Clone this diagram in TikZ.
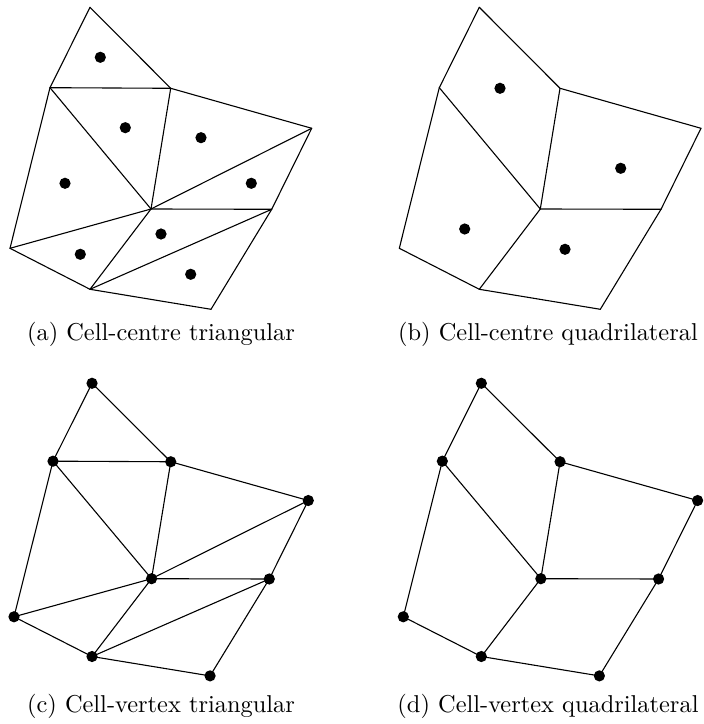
\documentclass[tikz,border=0pt]{standalone}
\usepackage{tikz}
\usetikzlibrary{positioning}
\tikzset{
  fv diagram/.style={x=0.41pt, y=-0.41pt, line cap=round, line join=round},
  fv edge/.style={draw=black, line width=0.45pt},
  fv dot/.style={circle, fill=black, inner sep=0pt, minimum size=4.6pt},
  fv caption/.style={anchor=base, inner sep=0pt}
}
% mesh vertices of one panel, #1 is the name prefix
\newcommand{\fvpoints}[1]{%
  \coordinate (#1A) at (90,7.3);
  \coordinate (#1B) at (50,87.7);
  \coordinate (#1C) at (170.7,88.3);
  \coordinate (#1D) at (311.7,128.3);
  \coordinate (#1E) at (151,209);
  \coordinate (#1F) at (271.7,209.3);
  \coordinate (#1G) at (10,248.3);
  \coordinate (#1H) at (90,289.3);
  \coordinate (#1I) at (211,309.3);
}
\newcommand{\fvtriedges}[1]{%
  \foreach \u/\v in {A/B,A/C,B/C,B/E,B/G,C/E,C/D,D/E,D/F,E/F,E/G,E/H,F/H,F/I,G/H,H/I}
    \draw[fv edge] (#1\u) -- (#1\v);
}
\newcommand{\fvquadedges}[1]{%
  \foreach \u/\v in {A/B,A/C,B/E,C/E,C/D,D/F,E/F,B/G,G/H,E/H,H/I,F/I}
    \draw[fv edge] (#1\u) -- (#1\v);
}

\begin{document}
\begin{tikzpicture}[fv diagram]
\useasboundingbox (0,0) rectangle (704,724);

% (a) cell-centre, triangles
\begin{scope}
  \fvpoints{a}
  \fvtriedges{a}
  \foreach \x/\y [count=\i] in {100.3/57.3,125.3/127.7,201/137.7,65/183.3,
      251.3/183.3,161/234,80.3/254.3,190.7/274.3}
    \node[fv dot] (ac\i) at (\x,\y) {};
\end{scope}

% (b) cell-centre, quadrilaterals
\begin{scope}[shift={(389.3,0)}]
  \fvpoints{b}
  \fvquadedges{b}
  \foreach \x/\y [count=\i] in {110.7/88.3,231.4/168.3,75.4/229,175.7/249.3}
    \node[fv dot] (bc\i) at (\x,\y) {};
\end{scope}

% (c) cell-vertex, triangles
\begin{scope}[shift={(4.24,376.2)}, xscale=0.9755, yscale=0.969]
  \fvpoints{c}
  \fvtriedges{c}
  \foreach \p in {A,B,C,D,E,F,G,H,I}
    \node[fv dot] (c\p v) at (c\p) {};
\end{scope}

% (d) cell-vertex, quadrilaterals
\begin{scope}[shift={(393.54,376.2)}, xscale=0.9755, yscale=0.969]
  \fvpoints{d}
  \fvquadedges{d}
  \foreach \p in {A,B,C,D,E,F,G,H,I}
    \node[fv dot] (d\p v) at (d\p) {};
\end{scope}

\node[fv caption] (capa) at (161,340.5) {(a) Cell-centre triangular};
\node[fv caption] (capb) at (548,340.5) {(b) Cell-centre quadrilateral};
\node[fv caption] (capc) at (161,712.5) {(c) Cell-vertex triangular};
\node[fv caption] (capd) at (548,712.5) {(d) Cell-vertex quadrilateral};
\end{tikzpicture}
\end{document}
